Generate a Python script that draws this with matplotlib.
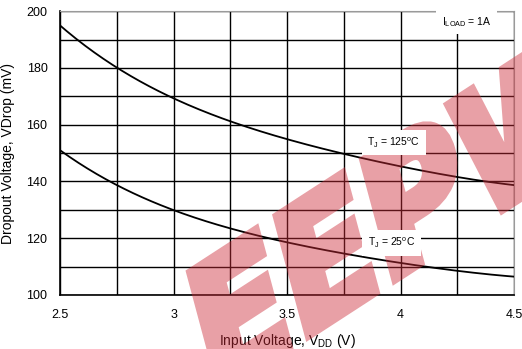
import numpy as np
import matplotlib
matplotlib.use("Agg")
import matplotlib.pyplot as plt
from matplotlib.textpath import TextPath
from matplotlib.patches import PathPatch
from matplotlib.font_manager import FontProperties
from matplotlib.transforms import Affine2D

plt.rcParams['font.family'] = ['Liberation Sans', 'DejaVu Sans']

# -------------------------
# Data
# -------------------------
vdd = [2.5, 2.75, 3.0, 3.25, 3.5, 3.75, 4.0, 4.25, 4.5]
vdrop_125 = [195.0, 180.0, 169.5, 161.0, 155.0, 149.6, 145.4, 141.5, 138.7]
vdrop_25 = [151.0, 138.7, 129.9, 123.3, 118.8, 114.4, 111.2, 108.6, 106.4]

x_ticks = [2.5, 3, 3.5, 4, 4.5]
x_tick_labels = ["2.5", "3", "3.5", "4", "4.5"]
y_ticks = [100, 120, 140, 160, 180, 200]

W, H, DPI = 5.22, 3.49, 100


# smooth curve through the read points
def smooth(x, y, n=200):
    xs = np.linspace(x[0], x[-1], n)
    c = np.polyfit(x, y, 4)
    return xs, np.polyval(c, xs)


# -------------------------
# Plot
# -------------------------
fig = plt.figure(figsize=(W, H), dpi=DPI)
ax = fig.add_axes([0.115, 0.155, 0.87, 0.813])

ax.set_xticks(np.arange(2.5, 4.51, 0.25), minor=True)
ax.set_yticks(np.arange(100, 201, 10), minor=True)
ax.set_xticks(x_ticks)
ax.set_xticklabels(x_tick_labels)
ax.set_yticks(y_ticks)
ax.grid(which='both', color='black', linewidth=1.0)
ax.tick_params(which='both', length=0, labelsize=9)
ax.tick_params(axis='x', pad=10)
ax.tick_params(axis='y', pad=9)
for s in ['top', 'right']:
    ax.spines[s].set_color('#9a9a9a')
for s in ['left', 'bottom']:
    ax.spines[s].set_color('black')
    ax.spines[s].set_linewidth(1.2)

xs, ys = smooth(vdd, vdrop_125)
ax.plot(xs, ys, color='black', linewidth=1.3, zorder=3)
xs, ys = smooth(vdd, vdrop_25)
ax.plot(xs, ys, color='black', linewidth=1.3, zorder=3)

box = dict(facecolor='white', edgecolor='none', pad=4)
ax.text(4.29, 196.3, r"I$_{\mathregular{LOAD}}$ = 1A", fontsize=7.5, ha='center', va='center',
        bbox=box, zorder=4)
ax.text(3.97, 153.6, r"T$_{\mathregular{J}}$ = 125$^{\mathregular{o}}$C", fontsize=7.5, ha='center', va='center',
        bbox=box, zorder=4)
ax.text(3.96, 118.3, r"T$_{\mathregular{J}}$ = 25$^{\mathregular{o}}$C", fontsize=7.5, ha='center', va='center',
        bbox=box, zorder=4)

ax.set_xlabel(r"Input Voltage, V$_{\mathregular{DD}}$ (V)", fontsize=10, labelpad=8)
ax.set_ylabel("Dropout Voltage, VDrop (mV)", fontsize=10, labelpad=8)

# -------------------------
# Watermark: draw the slanted logo offscreen as a mask,
# then lay it in as one translucent layer (under the labels)
# -------------------------
wm = plt.figure(figsize=(W, H), dpi=DPI)
tp = TextPath((0, 0), "EEPW", size=159,
              prop=FontProperties(family='DejaVu Sans', weight='bold'))
tr = Affine2D().scale(0.95, 1.0).skew_deg(18, 0).rotate_deg(33).translate(211, -49)
wm.add_artist(PathPatch(tp, transform=tr, facecolor='black', edgecolor='black',
                        linewidth=7, joinstyle='miter'))
wm.canvas.draw()
buf = np.asarray(wm.canvas.buffer_rgba()).astype(float)
mask = 1.0 - buf[..., 0] / 255.0
plt.close(wm)

layer = np.zeros(mask.shape + (4,))
layer[..., 0] = 0.80
layer[..., 1] = 0.17
layer[..., 2] = 0.22
layer[..., 3] = mask * 0.45
ax.imshow(layer, extent=(0, 1, 0, 1), transform=fig.transFigure, origin='upper',
          aspect='auto', interpolation='nearest', clip_on=False, zorder=3.5)

ax.set_xlim(2.5, 4.5)
ax.set_ylim(100, 200)

fig.savefig("out.png", dpi=DPI)
